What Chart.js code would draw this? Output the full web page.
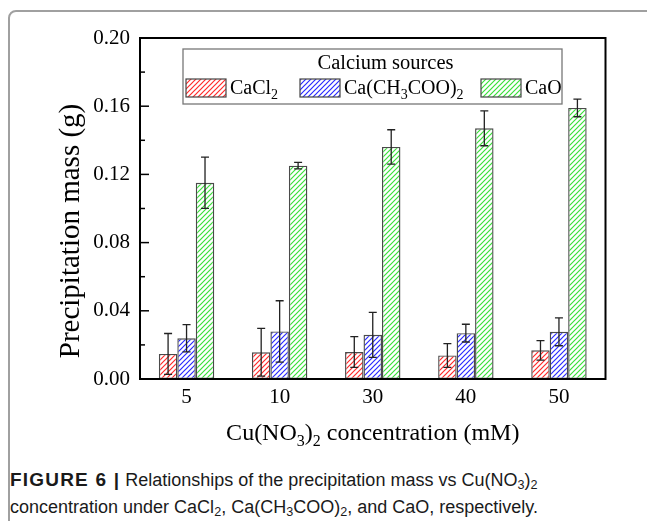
<!DOCTYPE html>
<html>
<head>
<meta charset="utf-8">
<script src="https://cdn.jsdelivr.net/npm/chart.js@4.4.1/dist/chart.umd.min.js"></script>
<style>
  body { margin: 0; background: #fff; width: 647px; height: 521px; overflow: hidden; position: relative; }
  #frame { position: absolute; left: 8px; top: 10px; width: 660px; height: 560px; border: 2px solid #a0a0a0; border-radius: 8px; box-sizing: border-box; }
  #wrap { position: absolute; left: 0; top: 0; width: 647px; height: 450px; }
  #caption { position: absolute; left: 10px; top: 466px; width: 630px; font-family: "Liberation Sans", Arial, sans-serif; font-size: 18px; line-height: 27px; color: #1a1a1a; }
  #caption b { font-weight: bold; font-size: 19px; letter-spacing: 1.2px; }
  #caption sub { font-size: 70%; vertical-align: -3px; line-height: 0; }
</style>
</head>
<body>
<div id="frame"></div>
<div id="wrap"><canvas id="chart" width="647" height="450"></canvas></div>
<div id="caption"><b>FIGURE 6 |</b> Relationships of the precipitation mass vs Cu(NO<sub>3</sub>)<sub>2</sub><br>concentration under CaCl<sub>2</sub>, Ca(CH<sub>3</sub>COO)<sub>2</sub>, and CaO, respectively.</div>
<script>
// data
const categories = ['5', '10', '30', '40', '50'];
const seriesNames = ['CaCl2', 'Ca(CH3COO)2', 'CaO'];
const cacl2 = [0.0147, 0.0157, 0.0158, 0.0138, 0.0168];
const cacl2Err = [0.012, 0.014, 0.009, 0.007, 0.0057];
const caAcetate = [0.0239, 0.0279, 0.0259, 0.0269, 0.0277];
const caAcetateErr = [0.008, 0.018, 0.0132, 0.0052, 0.0082];
const cao = [0.1151, 0.1251, 0.1361, 0.1470, 0.1590];
const caoErr = [0.015, 0.0019, 0.0101, 0.0102, 0.0052];
const yTitle = 'Precipitation mass (g)';
const xTitle = 'Cu(NO3)2 concentration (mM)';
const legendTitle = 'Calcium sources';

const SERIF = '"Liberation Serif", "Times New Roman", serif';

// diagonal hatch fill
const hatch = (color) => {
    const c = document.createElement('canvas');
    c.width = 5; c.height = 5;
    const g = c.getContext('2d');
    g.fillStyle = '#fff';
    g.fillRect(0, 0, 5, 5);
    g.strokeStyle = color;
    g.lineWidth = 1.2;
    g.beginPath();
    g.moveTo(-1, 6); g.lineTo(6, -1);
    g.moveTo(-1, 1); g.lineTo(1, -1);
    g.moveTo(4, 6); g.lineTo(6, 4);
    g.stroke();
    return g.createPattern(c, 'repeat');
}

const ctx0 = document.getElementById('chart').getContext('2d');
const fills = [hatch('#ff2a2a'), hatch('#2a2aff'), hatch('#3ae03a')];

// text with chemical subscripts (digit after a letter or ')')
const richParts = (text) => {
    const parts = [];
    for (let i = 0; i < text.length; i++) {
        const sub = /\d/.test(text[i]) && i > 0 && /[A-Za-z)]/.test(text[i - 1]);
        const last = parts[parts.length - 1];
        if (last && last.sub === sub) last.t += text[i];
        else parts.push({ t: text[i], sub: sub });
    }
    return parts;
}
const drawRich = (ctx, text, x, y, size, align) => {
    const parts = richParts(text);
    const subSize = Math.round(size * 0.68);
    let w = 0;
    parts.forEach(p => {
        ctx.font = (p.sub ? subSize : size) + 'px ' + SERIF;
        p.w = ctx.measureText(p.t).width;
        w += p.w;
    });
    let cx = align === 'center' ? x - w / 2 : x;
    ctx.textAlign = 'left';
    ctx.textBaseline = 'alphabetic';
    parts.forEach(p => {
        ctx.font = (p.sub ? subSize : size) + 'px ' + SERIF;
        ctx.fillText(p.t, cx, p.sub ? y + size * 0.25 : y);
        cx += p.w;
    });
}

const errorBars = {
    id: 'errorBars',
    afterDatasetsDraw(chart) {
        const ctx = chart.ctx;
        const y = chart.scales.y;
        ctx.save();
        ctx.strokeStyle = '#222';
        ctx.lineWidth = 1.3;
        chart.data.datasets.forEach((ds, i) => {
            chart.getDatasetMeta(i).data.forEach((bar, j) => {
                const hi = y.getPixelForValue(ds.data[j] + ds.errors[j]);
                const lo = y.getPixelForValue(ds.data[j] - ds.errors[j]);
                ctx.beginPath();
                ctx.moveTo(bar.x, hi); ctx.lineTo(bar.x, lo);
                ctx.moveTo(bar.x - 4, hi); ctx.lineTo(bar.x + 4, hi);
                ctx.moveTo(bar.x - 4, lo); ctx.lineTo(bar.x + 4, lo);
                ctx.stroke();
            });
        });
        ctx.restore();
    }
};

const frameAndText = {
    id: 'frameAndText',
    afterDraw(chart) {
        const ctx = chart.ctx;
        const a = chart.chartArea;
        const y = chart.scales.y;
        ctx.save();
        // inward ticks on the left axis
        ctx.strokeStyle = '#000';
        ctx.lineWidth = 1.5;
        y.ticks.forEach(t => {
            const py = y.getPixelForValue(t.value);
            const major = Math.round(t.value * 100) % 4 === 0;
            ctx.beginPath();
            ctx.moveTo(a.left, py);
            ctx.lineTo(a.left + (major ? 9 : 5), py);
            ctx.stroke();
        });
        // plot frame
        ctx.lineWidth = 2;
        ctx.strokeRect(a.left, a.top, a.right - a.left, a.bottom - a.top);

        // axis titles
        ctx.fillStyle = '#000';
        drawRich(ctx, xTitle, (a.left + a.right) / 2, a.bottom + 61, 24, 'center');
        ctx.save();
        ctx.translate(79, 231);
        ctx.rotate(-Math.PI / 2);
        ctx.font = '29px ' + SERIF;
        ctx.textAlign = 'center';
        ctx.textBaseline = 'alphabetic';
        ctx.fillText(yTitle, 0, 0);
        ctx.restore();

        // legend box
        const lx = a.left + 43, ly = a.top + 11, lw = 379, lh = 55;
        ctx.fillStyle = '#fff';
        ctx.fillRect(lx, ly, lw, lh);
        ctx.strokeStyle = '#777';
        ctx.lineWidth = 1.3;
        ctx.strokeRect(lx, ly, lw, lh);
        ctx.fillStyle = '#000';
        ctx.font = '20.5px ' + SERIF;
        ctx.textAlign = 'center';
        ctx.textBaseline = 'alphabetic';
        ctx.fillText(legendTitle, lx + lw / 2 + 13, ly + 20);
        const itemX = [3, 117, 298];
        chart.data.datasets.forEach((ds, i) => {
            const sx = lx + itemX[i], sy = ly + 30;
            ctx.fillStyle = ds.backgroundColor;
            ctx.fillRect(sx, sy, 40, 18);
            ctx.strokeStyle = '#444';
            ctx.lineWidth = 1.2;
            ctx.strokeRect(sx, sy, 40, 18);
            ctx.fillStyle = '#000';
            drawRich(ctx, ds.label, sx + 44, sy + 15, 20, 'left');
        });
        ctx.restore();
    }
};

const mkSet = (i, values, errs) => ({
    label: seriesNames[i],
    data: values,
    errors: errs,
    backgroundColor: fills[i],
    borderColor: '#4a4a4a',
    borderWidth: 1.4,
    borderSkipped: false
});

new Chart(ctx0, {
    type: 'bar',
    data: {
        labels: categories,
        datasets: [mkSet(0, cacl2, cacl2Err), mkSet(1, caAcetate, caAcetateErr), mkSet(2, cao, caoErr)]
    },
    options: {
        responsive: false,
        animation: false,
        devicePixelRatio: 1,
        layout: { padding: { top: 38, right: 41.5, left: 0, bottom: 0 } },
        datasets: { bar: { categoryPercentage: 0.595, barPercentage: 1 } },
        plugins: { legend: { display: false }, tooltip: { enabled: false } },
        scales: {
            x: {
                grid: { display: false, drawTicks: false },
                border: { display: false },
                ticks: { color: '#000', font: { family: SERIF, size: 21 }, padding: 6, maxRotation: 0 },
                afterFit: s => { s.height = 71; }
            },
            y: {
                min: 0,
                max: 0.2,
                grid: { display: false, drawTicks: false },
                border: { display: false },
                ticks: {
                    stepSize: 0.02,
                    color: '#000',
                    padding: 10,
                    font: { family: SERIF, size: 21 },
                    callback: v => (Math.round(v * 100) % 4 === 0 ? v.toFixed(2) : '')
                },
                afterFit: s => { s.width = 140; }
            }
        }
    },
    plugins: [errorBars, frameAndText]
});
</script>
</body>
</html>
